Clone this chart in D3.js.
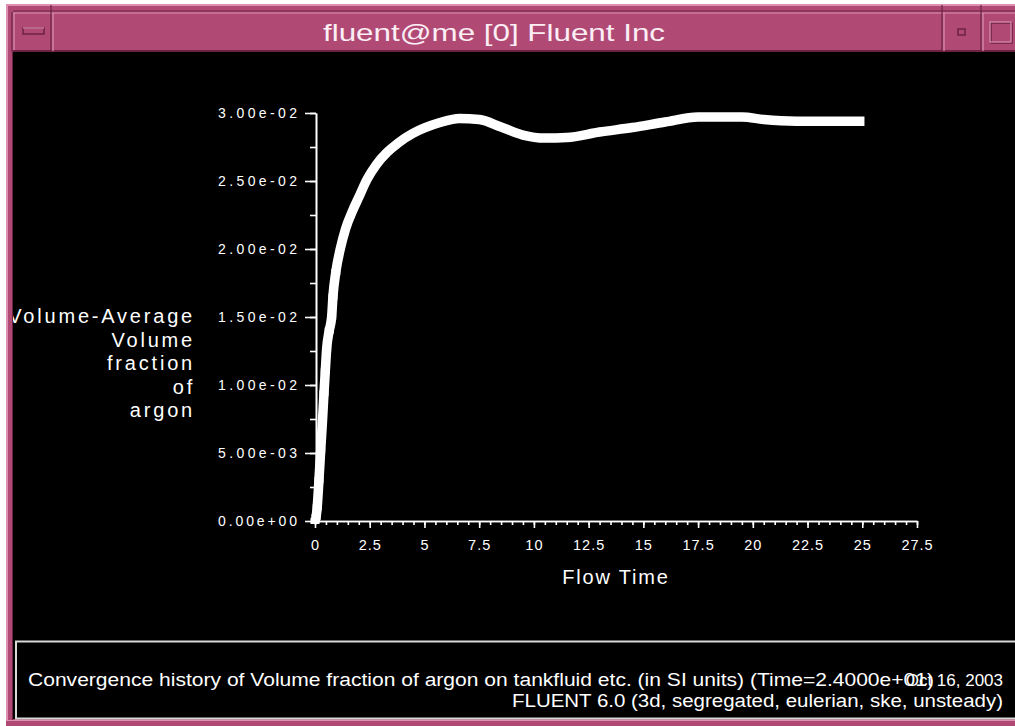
<!DOCTYPE html>
<html>
<head>
<meta charset="utf-8">
<script src="https://cdn.jsdelivr.net/npm/d3@7"></script>
<style>
  html, body { margin: 0; padding: 0; background: #ffffff; }
  svg { display: block; }
</style>
</head>
<body>
<svg id="win" width="1015" height="726"></svg>
<script>
// Convergence history: volume-averaged volume fraction of argon vs flow time
const flowTime = [0, 0.05, 0.1, 0.18, 0.26, 0.34, 0.41, 0.47, 0.53, 0.65, 0.76, 0.82, 0.95,
  1.14, 1.4, 1.74, 2.0, 2.37, 2.8, 3.29, 3.8, 4.47, 5.0, 5.71, 6.6, 7.5, 8.5, 9.5, 10.5,
  11.5, 13, 14.5, 16, 17.5, 19.5, 20.5, 22, 25.1];
const argonFraction = [0, 0.0003, 0.001, 0.003, 0.0052, 0.0073, 0.0094, 0.011, 0.0126, 0.014,
  0.015, 0.0165, 0.0183, 0.0199, 0.0215, 0.0229, 0.0238, 0.0251, 0.0262, 0.0271, 0.0278,
  0.0285, 0.0289, 0.0293, 0.0296, 0.02952, 0.02897, 0.02838, 0.02816, 0.0282, 0.0286,
  0.02893, 0.02934, 0.0297, 0.0297, 0.02952, 0.0294, 0.02939];

const xMajorTicks = [0, 2.5, 5, 7.5, 10, 12.5, 15, 17.5, 20, 22.5, 25, 27.5];
const xTickLabels = ["0", "2.5", "5", "7.5", "10", "12.5", "15", "17.5", "20", "22.5", "25", "27.5"];
const yMajorTicks = [0, 0.005, 0.01, 0.015, 0.02, 0.025, 0.03];
const yTickLabels = ["0.00e+00", "5.00e-03", "1.00e-02", "1.50e-02", "2.00e-02", "2.50e-02", "3.00e-02"];
const yTitleLines = ["Volume-Average", "Volume", "fraction", "of", "argon"];

const windowTitle = "fluent@me [0] Fluent Inc";
const footerLine1 = "Convergence history of Volume fraction of argon on tankfluid etc. (in SI units)  (Time=2.4000e+01)";
const footerDate = "Oct 16, 2003";
const footerLine2 = "FLUENT 6.0 (3d, segregated, eulerian, ske, unsteady)";

const svg = d3.select("#win");
const FONT = "'Liberation Sans', Arial, sans-serif";
const NARROW = "'Liberation Sans Narrow', 'Liberation Sans', Arial, sans-serif";

// ---- window frame (drawn first: background) ----
const pink = "#b04a75", pinkLight = "#dc90b2", pinkDark = "#6c2343";
svg.append("rect").attr("x", 0).attr("y", 0).attr("width", 1015).attr("height", 726).attr("fill", "#ffffff");
svg.append("rect").attr("x", 6).attr("y", 4).attr("width", 1009).attr("height", 722).attr("fill", pink);

// black drawing area
svg.append("rect").attr("x", 13).attr("y", 52).attr("width", 1002).attr("height", 667).attr("fill", "#000000");

// ---- plot ----
const plot = svg.append("g");
const clip = svg.append("clipPath").attr("id", "area");
clip.append("rect").attr("x", 13).attr("y", 52).attr("width", 1002).attr("height", 667);
plot.attr("clip-path", "url(#area)");

const x = d3.scaleLinear().domain([0, 27.5]).range([315, 917]);
const y = d3.scaleLinear().domain([0, 0.03]).range([521, 113]);

const axisColor = "#ffffff";

// y axis: minor ticks every 0.0025, major every 0.005
const yMinor = d3.range(0, 0.03001, 0.0025);
plot.append("g").attr("transform", "translate(316,0)")
  .call(d3.axisLeft(y).tickValues(yMinor).tickSize(6).tickSizeOuter(0).tickFormat(""))
  .call(g => g.selectAll("line, path").attr("stroke", axisColor).attr("stroke-width", 1.6));
const yAx = plot.append("g").attr("transform", "translate(316,0)")
  .call(d3.axisLeft(y).tickValues(yMajorTicks).tickSize(11).tickSizeOuter(0).tickPadding(8)
    .tickFormat((d, i) => yTickLabels[i]));
yAx.selectAll("line, path").attr("stroke", axisColor).attr("stroke-width", 1.6);
yAx.selectAll("text").attr("fill", "#ffffff").attr("font-family", FONT).attr("font-size", 14)
  .attr("textLength", 79).attr("lengthAdjust", "spacing");

// x axis: minor ticks every 0.5, major every 2.5
const xMinor = d3.range(0, 27.5001, 0.5);
plot.append("g").attr("transform", "translate(0,521)")
  .call(d3.axisBottom(x).tickValues(xMinor).tickSize(4).tickSizeOuter(0).tickFormat(""))
  .call(g => g.selectAll("line, path").attr("stroke", axisColor).attr("stroke-width", 1.6));
const xAx = plot.append("g").attr("transform", "translate(0,521)")
  .call(d3.axisBottom(x).tickValues(xMajorTicks).tickSize(7).tickSizeOuter(0).tickPadding(12)
    .tickFormat((d, i) => xTickLabels[i]));
xAx.selectAll("line, path").attr("stroke", axisColor).attr("stroke-width", 1.6);
xAx.selectAll("text").attr("fill", "#ffffff").attr("font-family", FONT).attr("font-size", 14.5)
  .attr("letter-spacing", 1);

// axis titles
plot.append("text").attr("x", 616).attr("y", 584).attr("text-anchor", "middle")
  .attr("fill", "#ffffff").attr("font-family", FONT).attr("font-size", 20)
  .attr("letter-spacing", 1.8).text("Flow Time");

plot.append("g").selectAll("text").data(yTitleLines).join("text")
  .attr("x", 195).attr("y", (d, i) => 323 + i * 23.5)
  .attr("text-anchor", "end").attr("fill", "#ffffff")
  .attr("font-family", FONT).attr("font-size", 20).attr("letter-spacing", 2.8)
  .text(d => d);

// series: thick line of sample markers
const pts = flowTime.map((t, i) => [t, argonFraction[i]]);
const line = d3.line().x(d => x(d[0])).y(d => y(d[1])).curve(d3.curveMonotoneX);
plot.append("path").datum(pts).attr("d", line)
  .attr("fill", "none").attr("stroke", "#ffffff").attr("stroke-width", 9.5)
  .attr("stroke-linejoin", "round");
plot.append("g").selectAll("rect").data(pts.filter(d => d[0] < 1)).join("rect")
  .attr("x", d => x(d[0]) - 4.5).attr("y", d => y(d[1]) - 3)
  .attr("width", 9).attr("height", 6).attr("fill", "#ffffff");

// footer box
svg.append("rect").attr("x", 16).attr("y", 641.5).attr("width", 1010).attr("height", 77)
  .attr("fill", "none").attr("stroke", "#d8d8d8").attr("stroke-width", 2);
svg.append("text").attr("x", 28).attr("y", 686).attr("fill", "#ffffff")
  .attr("font-family", NARROW).attr("font-size", 18)
  .attr("textLength", 906).attr("lengthAdjust", "spacingAndGlyphs").text(footerLine1);
svg.append("text").attr("x", 1003).attr("y", 686).attr("text-anchor", "end").attr("fill", "#ffffff")
  .attr("font-family", NARROW).attr("font-size", 17).text(footerDate);
svg.append("text").attr("x", 1003).attr("y", 707).attr("text-anchor", "end").attr("fill", "#ffffff")
  .attr("font-family", NARROW).attr("font-size", 18)
  .attr("textLength", 491).attr("lengthAdjust", "spacingAndGlyphs").text(footerLine2);

// ---- title bar (on top) ----
const bar = svg.append("g");
bar.append("rect").attr("x", 6).attr("y", 4).attr("width", 1009).attr("height", 48).attr("fill", pink);
// outer bevel
bar.append("line").attr("x1", 6).attr("y1", 5).attr("x2", 1015).attr("y2", 5).attr("stroke", pinkLight).attr("stroke-width", 2);
bar.append("line").attr("x1", 7).attr("y1", 4).attr("x2", 7).attr("y2", 726).attr("stroke", pinkLight).attr("stroke-width", 2);
bar.append("line").attr("x1", 13).attr("y1", 11).attr("x2", 1015).attr("y2", 11).attr("stroke", pinkDark).attr("stroke-width", 1.2);
bar.append("line").attr("x1", 13).attr("y1", 13).attr("x2", 1015).attr("y2", 13).attr("stroke", pinkLight).attr("stroke-width", 1.2);
bar.append("line").attr("x1", 12).attr("y1", 12).attr("x2", 12).attr("y2", 52).attr("stroke", pinkDark).attr("stroke-width", 1.2);
bar.append("line").attr("x1", 14).attr("y1", 13).attr("x2", 14).attr("y2", 50).attr("stroke", pinkLight).attr("stroke-width", 1.2);
bar.append("line").attr("x1", 13).attr("y1", 51).attr("x2", 1015).attr("y2", 51).attr("stroke", pinkDark).attr("stroke-width", 2);
// separators
[[51, 53], [942, 944], [981, 983]].forEach(([a, b]) => {
  bar.append("line").attr("x1", a).attr("y1", 5).attr("x2", a).attr("y2", 51).attr("stroke", pinkDark).attr("stroke-width", 1.2);
  bar.append("line").attr("x1", b).attr("y1", 13).attr("x2", b).attr("y2", 51).attr("stroke", pinkLight).attr("stroke-width", 1.2);
});
// left menu button
bar.append("rect").attr("x", 23).attr("y", 28).attr("width", 21).attr("height", 6)
  .attr("fill", pink).attr("stroke", pinkDark).attr("stroke-width", 1.5);
bar.append("line").attr("x1", 23).attr("y1", 28).attr("x2", 44).attr("y2", 28).attr("stroke", pinkLight).attr("stroke-width", 1.2);
// iconify button
bar.append("rect").attr("x", 958).attr("y", 29).attr("width", 7).attr("height", 6)
  .attr("fill", pink).attr("stroke", pinkDark).attr("stroke-width", 1.5);
// maximize button
bar.append("rect").attr("x", 991).attr("y", 23).attr("width", 21).attr("height", 20)
  .attr("fill", "none").attr("stroke", pinkDark).attr("stroke-width", 1.5);
bar.append("rect").attr("x", 990).attr("y", 22).attr("width", 21).attr("height", 20)
  .attr("fill", "none").attr("stroke", pinkLight).attr("stroke-width", 1.2);
bar.append("text").attr("x", 494).attr("y", 41).attr("text-anchor", "middle")
  .attr("fill", "#fbeef4").attr("font-family", FONT).attr("font-size", 24)
  .attr("textLength", 342).attr("lengthAdjust", "spacingAndGlyphs").text(windowTitle);

// left and bottom frame strips drawn over any overflowing text
svg.append("rect").attr("x", 0).attr("y", 0).attr("width", 6).attr("height", 726).attr("fill", "#ffffff");
svg.append("rect").attr("x", 6).attr("y", 52).attr("width", 7).attr("height", 674).attr("fill", pink);
svg.append("line").attr("x1", 7).attr("y1", 52).attr("x2", 7).attr("y2", 726).attr("stroke", pinkLight).attr("stroke-width", 2);
svg.append("line").attr("x1", 12.5).attr("y1", 52).attr("x2", 12.5).attr("y2", 720).attr("stroke", pinkDark).attr("stroke-width", 1);
svg.append("rect").attr("x", 6).attr("y", 720).attr("width", 1009).attr("height", 6).attr("fill", pink);
svg.append("line").attr("x1", 6).attr("y1", 720.5).attr("x2", 1015).attr("y2", 720.5).attr("stroke", pinkLight).attr("stroke-width", 1);
</script>
</body>
</html>
